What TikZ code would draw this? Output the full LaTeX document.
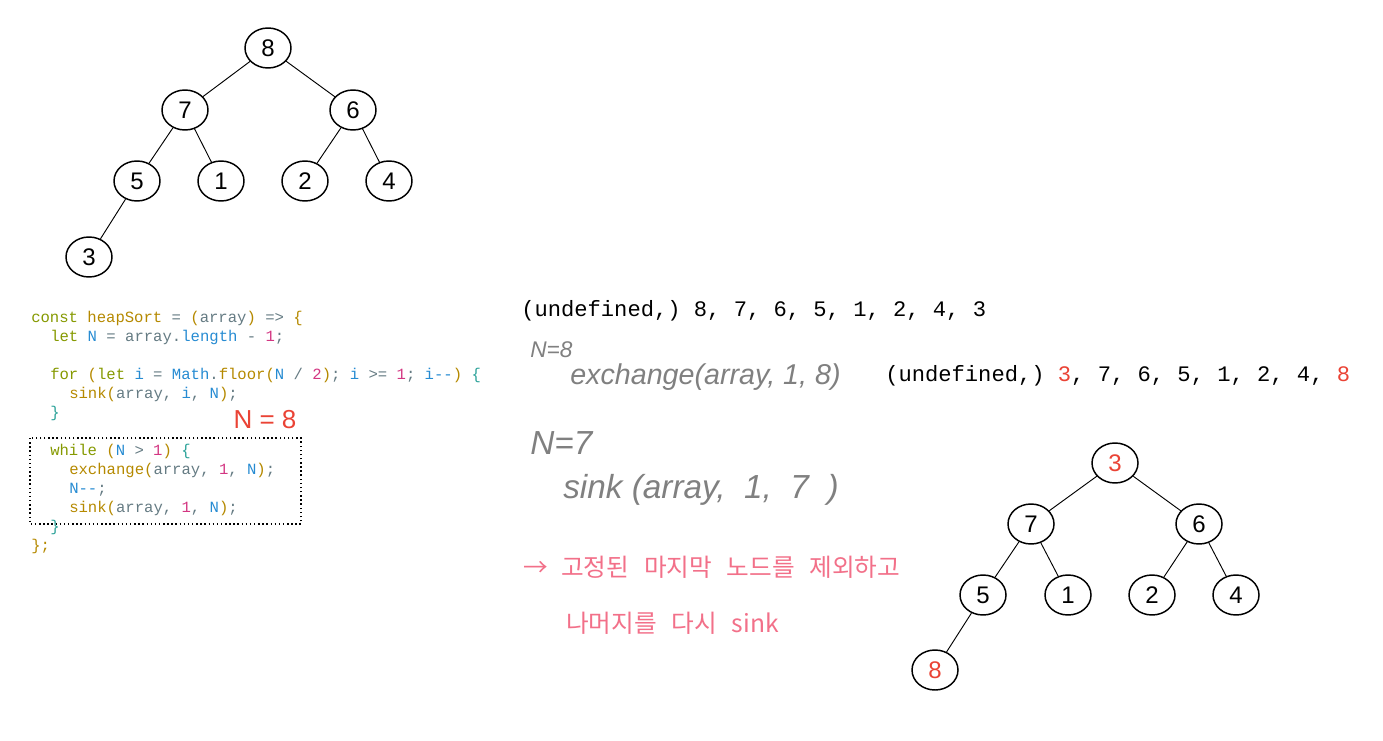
\documentclass[tikz,border=0pt]{standalone}
\usepackage{fontspec}
\setmainfont{Liberation Sans}
\setmonofont{Liberation Mono}
\newfontfamily\krfont{Noto Sans CJK KR}
\usetikzlibrary{shapes.geometric}
\definecolor{solgreen}{HTML}{859900}
\definecolor{solyellow}{HTML}{B58900}
\definecolor{solblue}{HTML}{268BD2}
\definecolor{solmagenta}{HTML}{D33682}
\definecolor{solcyan}{HTML}{2AA198}
\definecolor{solbase}{HTML}{657B83}
\definecolor{markred}{HTML}{EA4335}
\definecolor{pencil}{HTML}{808080}
\definecolor{penpink}{HTML}{F27089}
\newcommand{\ckw}[1]{\textcolor{solgreen}{#1}}
\newcommand{\cfn}[1]{\textcolor{solyellow}{#1}}
\newcommand{\cvar}[1]{\textcolor{solblue}{#1}}
\newcommand{\cnum}[1]{\textcolor{solmagenta}{#1}}
\newcommand{\cbr}[1]{\textcolor{solcyan}{#1}}
\newcommand{\krgap}{\hspace{11pt}}
\tikzset{
  % heap
  hn/.style={ellipse,draw=black,fill=white,line width=1.1pt,inner sep=0pt,
             minimum width=34.5pt,minimum height=30pt,font=\fontsize{18}{20}\selectfont},
  hnew/.style={hn,text=markred},
  he/.style={draw=black,line width=0.7pt},
  % texts
  code/.style={anchor=base west,inner sep=0pt,text=solbase,
               font=\ttfamily\fontsize{11.7}{14}\selectfont},
  arr/.style={anchor=base west,inner sep=0pt,
              font=\ttfamily\fontsize{16.6}{18}\selectfont},
  hand/.style={anchor=west,inner sep=0pt,text=pencil,font=\itshape},
  kr/.style={anchor=west,inner sep=0pt,text=penpink,
             font=\krfont\fontsize{18.5}{20}\selectfont},
}
\begin{document}
\begin{tikzpicture}[x=0.75pt,y=-0.75pt]
\useasboundingbox (0,0) rectangle (1383,741);
  % heap before
  \node[hn] (a8) at (268,48) {8};
  \node[hn] (a7) at (185,110) {7};
  \node[hn] (a6) at (353,110) {6};
  \node[hn] (a5) at (137,181) {5};
  \node[hn] (a1) at (221,181) {1};
  \node[hn] (a2) at (305,181) {2};
  \node[hn] (a4) at (389,181) {4};
  \node[hn] (a3) at (89,257) {3};
  \draw[he] (a8) -- (a7);
  \draw[he] (a8) -- (a6);
  \draw[he] (a7) -- (a5);
  \draw[he] (a7) -- (a1);
  \draw[he] (a6) -- (a2);
  \draw[he] (a6) -- (a4);
  \draw[he] (a5) -- (a3);
  % code
  \node[code] (c1) at (31,322) {\ckw{const} \cfn{heapSort} = \cfn{(}array\cfn{)} => \cfn{\{}};
  \node[code] (c2) at (50,341) {\ckw{let} \cvar{N} = array.\cvar{length} - \cnum{1};};
  \node[code] (c4) at (50,379) {\ckw{for} \cfn{(}\ckw{let} \cvar{i} = \cvar{Math}.\cfn{floor}\cfn{(}\cvar{N} / \cnum{2}\cfn{)}; \cvar{i} >= \cnum{1}; \cvar{i--}\cfn{)} \cbr{\{}};
  \node[code] (c5) at (69,398) {\cfn{sink(}array, \cvar{i}, \cvar{N}\cfn{)};};
  \node[code] (c6) at (50,417) {\cbr{\}}};
  \node[code] (c7) at (50,455) {\ckw{while} \cfn{(}\cvar{N} > \cnum{1}\cfn{)} \cbr{\{}};
  \node[code] (c8) at (69,474) {\cfn{exchange(}array, \cnum{1}, \cvar{N}\cfn{)};};
  \node[code] (c9) at (69,493) {\cvar{N--};};
  \node[code] (c10) at (69,512) {\cfn{sink(}array, \cnum{1}, \cvar{N}\cfn{)};};
  \node[code] (c11) at (50,531) {\cbr{\}}};
  \node[code] (c12) at (31,550) {\cfn{\};}};
  \draw[dotted,line width=1.1pt] (30,438) rectangle (301,524);
  \node[text=markred,font=\fontsize{19.5}{22}\selectfont] (nlabel) at (265,420) {N = 8};
  % arrays
  \node[arr] (row1) at (521,316) {(undefined,) 8, 7, 6, 5, 1, 2, 4, 3};
  \node[arr] (row2) at (885,381) {(undefined,) \textcolor{markred}{3}, 7, 6, 5, 1, 2, 4, \textcolor{markred}{8}};
  % notes
  \node[hand,font=\itshape\fontsize{17}{19}\selectfont] (n8) at (530,350) {N=8};
  \node[hand,font=\itshape\fontsize{21.5}{24}\selectfont] (xch) at (570,377) {exchange(array, 1, 8)};
  \node[hand,font=\itshape\fontsize{25}{28}\selectfont] (n7) at (530,443) {N=7};
  \node[hand,font=\itshape\fontsize{25}{28}\selectfont] (snk) at (563,490) {sink (array,\ \ 1,\ \ 7\ \ )};
  \node[kr] (kr1) at (523,567) {→\hspace{10pt}고정된\krgap 마지막\krgap 노드를\krgap 제외하고};
  \node[kr] (kr2) at (566,623) {나머지를\krgap 다시\krgap sink};
  % heap after exchange
  \node[hnew] (b3) at (1115,463) {3};
  \node[hn] (b7) at (1031,524) {7};
  \node[hn] (b6) at (1199,524) {6};
  \node[hn] (b5) at (983,595) {5};
  \node[hn] (b1) at (1068,595) {1};
  \node[hn] (b2) at (1152,595) {2};
  \node[hn] (b4) at (1236,595) {4};
  \node[hnew] (b8) at (935,670) {8};
  \draw[he] (b3) -- (b7);
  \draw[he] (b3) -- (b6);
  \draw[he] (b7) -- (b5);
  \draw[he] (b7) -- (b1);
  \draw[he] (b6) -- (b2);
  \draw[he] (b6) -- (b4);
  \draw[he] (b5) -- (b8);
\end{tikzpicture}
\end{document}
